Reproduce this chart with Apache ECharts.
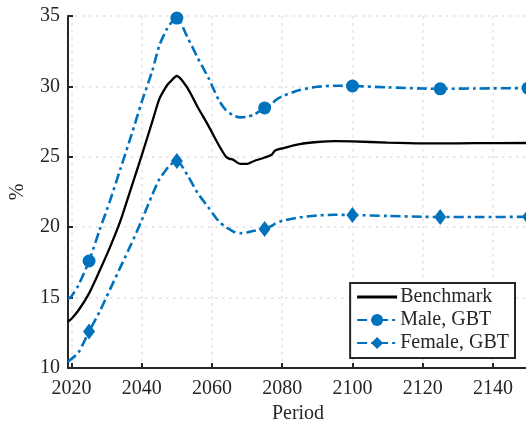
<!DOCTYPE html>
<html>
<head>
<meta charset="utf-8">
<script src="https://cdn.jsdelivr.net/npm/echarts@6/dist/echarts.min.js"></script>
<style>
  html, body { margin: 0; padding: 0; background: #fff; }
  #chart { width: 526px; height: 426px; }
</style>
</head>
<body>
<div id="chart"></div>
<script>
// Years at which each path is sampled
const years = [2019, 2020, 2022, 2025, 2028, 2031, 2034, 2037, 2040, 2043, 2045, 2047, 2048, 2050,
  2053, 2056, 2059, 2062, 2064, 2065, 2066, 2068, 2070, 2072, 2075, 2077, 2078, 2080,
  2085, 2090, 2095, 2100, 2110, 2120, 2125, 2135, 2150];

// Share (%) under each scenario
const benchmark = [13.3, 13.5, 14.1, 15.3, 16.9, 18.6, 20.5, 22.8, 25.1, 27.5, 29.1, 30.0, 30.3, 30.74,
  29.9, 28.5, 27.2, 25.8, 25.0, 24.85, 24.8, 24.5, 24.5, 24.7, 24.95, 25.15, 25.45, 25.6,
  25.9, 26.05, 26.12, 26.1, 26.0, 25.95, 25.95, 25.97, 25.98];
const maleGBT = [14.9, 15.1, 15.9, 17.6, 19.8, 21.9, 24.2, 26.5, 28.9, 31.1, 32.9, 34.0, 34.4, 34.85,
  33.5, 32.0, 30.6, 29.0, 28.3, 28.1, 27.95, 27.8, 27.85, 28.0, 28.47, 28.7, 29.0, 29.3,
  29.74, 29.97, 30.05, 30.03, 29.93, 29.85, 29.83, 29.85, 29.88];
const femaleGBT = [10.45, 10.65, 11.1, 12.6, 14.0, 15.6, 17.2, 18.8, 20.5, 22.3, 23.4, 24.1, 24.4, 24.7,
  23.7, 22.4, 21.4, 20.4, 20.0, 19.85, 19.7, 19.57, 19.62, 19.75, 19.87, 20.1, 20.25, 20.45,
  20.7, 20.83, 20.88, 20.87, 20.8, 20.74, 20.72, 20.72, 20.74];

// Years that carry a marker on the GBT paths
const markerYears = [2025, 2050, 2075, 2100, 2125, 2150];

const xTicks = { min: 2019, max: 2150, step: 20 };
const yTicks = { min: 10, max: 35, step: 5 };

const BLUE = '#0072BD';
const INK = '#262626';
const FONT = '"Liberation Serif", "DejaVu Serif", serif';

function pairs(values, withMarkers) {
  return years.map((yr, i) => {
    const item = { value: [yr, values[i]] };
    if (withMarkers && markerYears.indexOf(yr) < 0) item.symbol = 'none';
    return item;
  });
}

const chart = echarts.init(document.getElementById('chart'), null, { renderer: 'canvas' });

const dashDot = [10, 4, 3, 4];
const gridLine = { color: '#e8e8e8', width: 2, type: [2.5, 4.5] };

chart.setOption({
  animation: false,
  backgroundColor: '#ffffff',
  textStyle: { fontFamily: FONT },
  grid: { left: 68, top: 16, width: 460, height: 352, containLabel: false, outerBoundsMode: 'none' },
  xAxis: {
    type: 'value',
    min: xTicks.min,
    max: xTicks.max,
    minInterval: xTicks.step,
    maxInterval: xTicks.step,
    name: 'Period',
    nameLocation: 'middle',
    nameGap: 34,
    nameTextStyle: { fontFamily: FONT, fontSize: 20, color: INK },
    axisLine: { show: true, onZero: false, lineStyle: { color: INK, width: 2 } },
    axisTick: { show: true, inside: true, length: 5, lineStyle: { color: INK, width: 2 } },
    axisLabel: {
      show: true, margin: 11, fontFamily: FONT, fontSize: 20, color: INK,
      showMinLabel: false, showMaxLabel: false,
      formatter: v => String(v)
    },
    splitLine: { show: true, lineStyle: gridLine }
  },
  yAxis: {
    type: 'value',
    min: yTicks.min,
    max: yTicks.max,
    interval: yTicks.step,
    name: '%',
    nameLocation: 'middle',
    nameRotate: 90,
    nameGap: 40,
    nameTextStyle: { fontFamily: FONT, fontSize: 20, color: INK },
    axisLine: { show: true, lineStyle: { color: INK, width: 2 } },
    axisTick: { show: true, inside: true, length: 5, lineStyle: { color: INK, width: 2 } },
    axisLabel: { show: true, margin: 8, fontFamily: FONT, fontSize: 20, color: INK },
    splitLine: { show: true, lineStyle: gridLine }
  },
  legend: {
    show: true,
    orient: 'vertical',
    right: 11,
    top: 283,
    padding: [4, 6, 5, 6],
    itemWidth: 40,
    itemHeight: 15,
    itemGap: 3,
    borderColor: INK,
    borderWidth: 2,
    borderRadius: 0,
    backgroundColor: '#ffffff',
    textStyle: { fontFamily: FONT, fontSize: 20, color: INK, lineHeight: 20, padding: [0, 0, 0, -2] },
    data: [
      { name: 'Benchmark', icon: 'path://M0,0H40V3H0Z', itemStyle: { color: '#000000' } },
      'Male, GBT',
      'Female, GBT'
    ]
  },
  series: [
    {
      name: 'Benchmark',
      type: 'line',
      data: pairs(benchmark, false),
      symbol: 'none',
      showSymbol: false,
      smooth: 0.25,
      color: '#000000',
      lineStyle: { color: '#000000', width: 2.3, type: 'solid' },
      z: 3
    },
    {
      name: 'Male, GBT',
      type: 'line',
      data: pairs(maleGBT, true),
      symbol: 'circle',
      symbolSize: 13,
      showAllSymbol: true,
      smooth: 0.25,
      color: BLUE,
      itemStyle: { color: BLUE },
      lineStyle: { color: BLUE, width: 2.6, type: dashDot },
      z: 2
    },
    {
      name: 'Female, GBT',
      type: 'line',
      data: pairs(femaleGBT, true),
      symbol: 'diamond',
      symbolSize: [12, 16],
      showAllSymbol: true,
      smooth: 0.25,
      color: BLUE,
      itemStyle: { color: BLUE },
      lineStyle: { color: BLUE, width: 2.6, type: dashDot },
      z: 2
    }
  ]
});
</script>
</body>
</html>
